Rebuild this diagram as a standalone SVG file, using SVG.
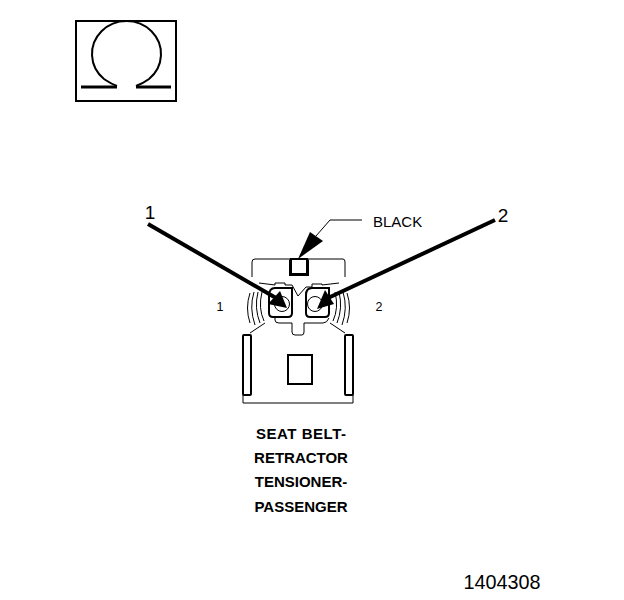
<svg xmlns="http://www.w3.org/2000/svg" width="624" height="600" viewBox="0 0 624 600">
<style>
text{font-family:"Liberation Sans",Arial,sans-serif;fill:#000}
.b{font-weight:bold;font-size:15px;text-anchor:middle}
.t{fill:none;stroke:#000;stroke-width:1}
.m{fill:none;stroke:#000;stroke-width:2}
.k{fill:none;stroke:#000;stroke-width:3}
</style>
<rect width="624" height="600" fill="#fff"/>
<g id="ohm-symbol">
<rect x="76" y="21" width="100" height="80" fill="none" stroke="#000" stroke-width="2"/>
<path class="m" d="M117 86C111 84 107 81 104 79A34.500 33 0 1 1 149 79C145 82 141 84 136 86"/>
<path d="M81 87H117M136 87H171" fill="none" stroke="#000" stroke-width="3"/>
</g>
<g id="connector-body">
<path class="t" d="M252 277V262Q252 259 255 259H343Q345 259 345 262V277"/>
<path class="k" d="M290.500 259.500V274.500H307.500V259.500"/>
<path class="m" d="M290 259H308"/>
<path class="t" d="M259 283L275 285V283H285V285H292L298 296L306 287H312V284H322V285L339 283"/>
<path class="m" d="M269 296Q269 288 275 288H292V313Q292 317 288 317H273Q269 317 269 313Z"/>
<path class="m" d="M306 295Q306 288 312 288H329V313Q329 317 325 317H310Q306 317 306 313Z"/>
<circle class="t" cx="282" cy="304" r="7.500"/><circle class="t" cx="315" cy="304" r="7.500"/>
<path class="t" d="M250 293Q245 308 250 323M254 292Q249 308 255 325M258 292Q254 308 260 323M262 292Q258 308 264 321M347 293Q352 308 347 323M343 292Q348 308 342 325M339 292Q343 308 337 323M335 292Q339 308 333 321"/>
<path class="t" d="M250 333L265 323M275 318V320Q275 323 279 323H292V332Q292 335 295 335H302Q304 335 304 332V323H323Q327 323 329 318M330 323L345 333"/>
<path class="t" d="M243 395V403H353V395"/>
<rect x="243" y="335" width="8" height="60" rx="1" fill="#fff" stroke="#000" stroke-width="2"/>
<rect x="345" y="335" width="8" height="60" rx="1" fill="#fff" stroke="#000" stroke-width="2"/>
<rect x="288" y="355" width="24" height="29" class="m"/>
</g>
<g id="connectors">
<path d="M148 224L276 298" stroke="#000" stroke-width="4" fill="none"/>
<path d="M287 308L280 291L268 304Z"/>
<path d="M495 220L328 298" stroke="#000" stroke-width="4" fill="none"/>
<path d="M317 309L334 304L325 290Z"/>
<path d="M298 259L310 232L323 241Z"/>
<path class="t" d="M316 236L330 220H362"/>
</g>
<g id="labels">
<text x="150" y="219" font-size="19" text-anchor="middle">1</text>
<text x="503" y="222" font-size="19" text-anchor="middle">2</text>
<text x="373" y="227" font-size="15">BLACK</text>
<text x="220" y="311" font-size="12.500" text-anchor="middle">1</text>
<text x="379" y="311" font-size="12.500" text-anchor="middle">2</text>
<text x="301" y="439" class="b" textLength="90">SEAT BELT-</text>
<text x="301" y="463" class="b">RETRACTOR</text>
<text x="301" y="487" class="b">TENSIONER-</text>
<text x="301" y="512" class="b">PASSENGER</text>
<text x="502" y="589" font-size="19.800" text-anchor="middle">1404308</text>
</g>
</svg>
